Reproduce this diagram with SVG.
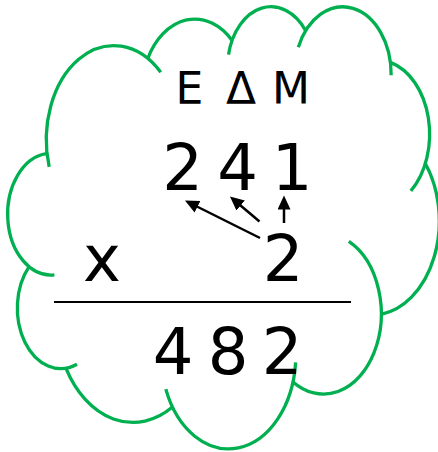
<svg xmlns="http://www.w3.org/2000/svg" width="438" height="452" viewBox="0 0 438 452">
<style>
.c{fill:none;stroke:#00B050;stroke-width:3.3;vector-effect:non-scaling-stroke}
.t{font-family:"DejaVu Sans","Noto Sans",sans-serif;fill:#000;text-anchor:middle}
.a{stroke:#000;stroke-width:2.5;fill:none}
</style>
<defs>
<marker id="ah" markerUnits="userSpaceOnUse" markerWidth="16" markerHeight="14" refX="4" refY="6.5" orient="auto">
<path d="M0,0 L14,6.5 L0,13 z" fill="#000"/>
</marker>
</defs>
<rect width="438" height="452" fill="#fff"/>
<g id="cloud" transform="translate(8,5.3) scale(0.009979,0.01023)">
<path class="c" d="M4126.9,15789.1 A6753,9190 0 0 1 15305.5,6551.1"/>
<path class="c" d="M14005,5202 A5333,7267 0 0 1 22455.9,3432.8"/>
<path class="c" d="M22096.9,4821.5 A4365,5945 0 0 1 29834.2,2483.1"/>
<path class="c" d="M29092.5,4095.3 A4857,6595 0 0 1 38396,6841.5"/>
<path class="c" d="M38319.6,5578.1 A5333,7273 0 0 1 40371.1,18139"/>
<path class="c" d="M41819.9,15462.1 A6775,9220 0 0 1 37404.2,30202.2"/>
<path class="c" d="M34152.5,23066.3 A5785,7867 0 1 1 28556.4,36812.9"/>
<path class="c" d="M28822.9,34904.1 A6752,9215 0 0 1 15813,37524.6"/>
<path class="c" d="M16481.1,39265.5 A7720,10543 0 0 1 5803.7,35469.7"/>
<path class="c" d="M6912.9,35087.9 A4360,5918 0 0 1 2112.2,25548.3"/>
<path class="c" d="M4646.6,26345.9 A4345,5945 0 0 1 3862.8,14505.3"/>
</g>
<g id="header">
<text class="t" font-size="44" x="189.5 215 241 266 291" y="104">Ε Δ Μ</text>
</g>
<g id="multiplicand">
<text class="t" font-size="64" x="182.5 210 237.5 265 292" y="190">2 4 1</text>
</g>
<g id="times">
<text class="t" font-size="64" x="102" y="281">x</text>
</g>
<g id="multiplier">
<text class="t" font-size="64" x="283" y="281">2</text>
</g>
<g id="rule">
<line x1="54" y1="302" x2="351" y2="302" stroke="#000" stroke-width="2"/>
</g>
<g id="product">
<text class="t" font-size="64" x="173 200 228 255 282" y="374">4 8 2</text>
</g>
<g id="connectors">
<line class="a" x1="260" y1="238" x2="193.9" y2="205" marker-end="url(#ah)"/>
<line class="a" x1="259.5" y1="221.5" x2="237.6" y2="203" marker-end="url(#ah)"/>
<line class="a" x1="284" y1="223" x2="284" y2="205.5" marker-end="url(#ah)"/>
</g>
</svg>
